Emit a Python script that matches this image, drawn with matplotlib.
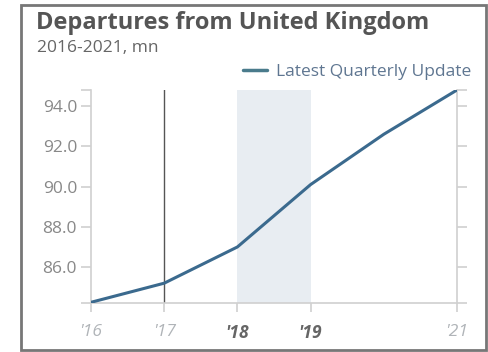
import matplotlib
matplotlib.use("Agg")
import matplotlib.pyplot as plt
from matplotlib.patches import Rectangle

plt.rcParams['font.family'] = ['Open Sans', 'DejaVu Sans']

years = [2016, 2017, 2018, 2019, 2020, 2021]
departures = [84.25, 85.2, 87.0, 90.1, 92.6, 94.8]
ytick_vals = [86.0, 88.0, 90.0, 92.0, 94.0]
xtick_years = [2016, 2017, 2018, 2019, 2021]
xtick_labels = ["'16", "'17", "'18", "'19", "'21"]
bold_years = [2018, 2019]
marker_year = 2017
band = (2018, 2019)
ymin, ymax = 84.23, 94.8

fig = plt.figure(figsize=(4.89, 3.52), dpi=100)
ax = fig.add_axes([91 / 489, 1 - 302.7 / 352, (457 - 91) / 489, (302.7 - 90) / 352])

ax.axvspan(band[0], band[1], color='#e8edf2', lw=0, zorder=0)
ax.axvline(marker_year, color='#555555', lw=1, zorder=1)
ax.plot(years, departures, color='#3b6a8e', lw=2.2, zorder=3,
        label='Latest Quarterly Update', solid_capstyle='round')

ax.set_xlim(2016, 2021)
ax.set_ylim(ymin, ymax)

for s in ['left', 'right', 'bottom']:
    ax.spines[s].set_color('#d0d0d0')
    ax.spines[s].set_linewidth(1.2)
ax.spines['top'].set_visible(False)

yt = [ymin] + ytick_vals + [ymax]
ax.set_yticks(yt)
ax.set_yticklabels([''] + ['%.1f' % v for v in ytick_vals] + [''])
ax.tick_params(axis='y', which='both', left=True, right=True, direction='out',
               length=7, width=1.2, color='#d0d0d0', labelcolor='#888888',
               labelsize=12.5, pad=3)

ax.set_xticks(xtick_years)
ax.set_xticklabels(xtick_labels)
ax.tick_params(axis='x', direction='out', length=6.5, width=1.2, color='#d0d0d0',
               labelsize=12.5, pad=9)
for lab, yr in zip(ax.get_xticklabels(), xtick_years):
    lab.set_fontstyle('italic')
    if yr in bold_years:
        lab.set_fontweight('bold')
        lab.set_color('#666666')
    else:
        lab.set_color('#b0b4b8')

leg = ax.legend(loc='center right', bbox_to_anchor=(471 / 489, 1 - 72 / 352),
                bbox_transform=fig.transFigure, frameon=False, fontsize=12.5,
                handlelength=1.4, handletextpad=0.5, borderpad=0, borderaxespad=0)
for t in leg.get_texts():
    t.set_color('#5f7691')
leg.get_lines()[0].set_color('#4a7b8c')
leg.get_lines()[0].set_linewidth(2.5)

fig.text(36 / 489, 1 - 23 / 352, 'Departures from United Kingdom', fontsize=17,
         fontweight='bold', color='#555555', va='center', ha='left')
fig.text(37 / 489, 1 - 48 / 352, '2016-2021, mn', fontsize=12.5, color='#666666',
         va='center', ha='left')

fig.patches.append(Rectangle((21 / 489, 1 - 350 / 352), (486 - 21) / 489, (350 - 5) / 352,
                             transform=fig.transFigure, fill=False, ec='#777777', lw=2))

fig.savefig('out.png', dpi=100)
